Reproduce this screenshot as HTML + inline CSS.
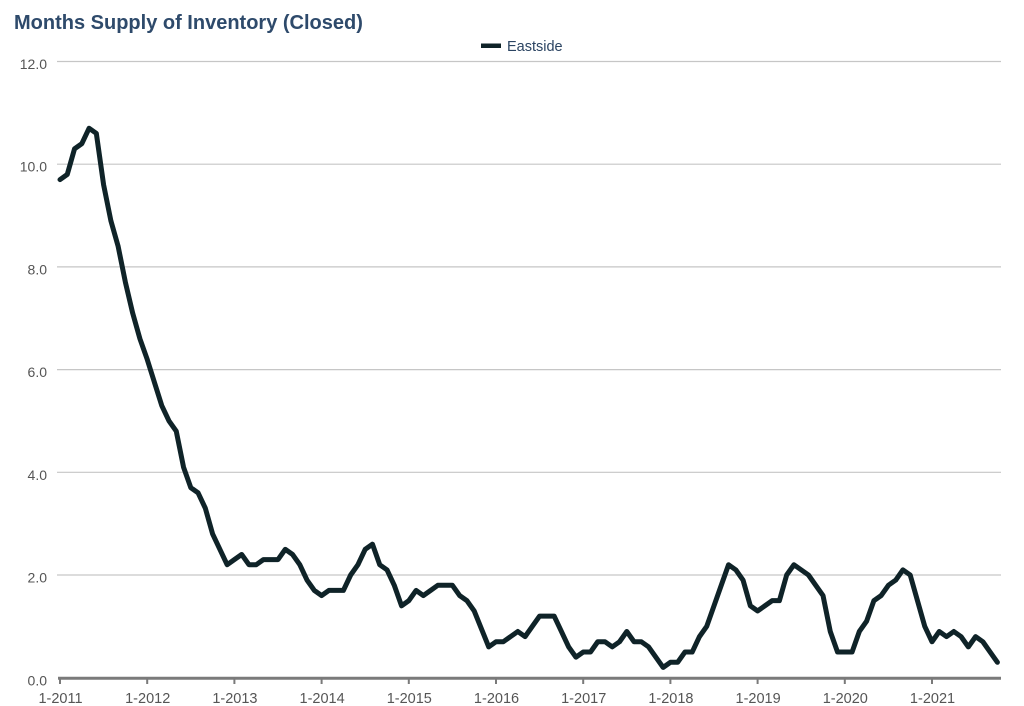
<!DOCTYPE html>
<html>
<head>
<meta charset="utf-8">
<style>
  html, body { margin: 0; padding: 0; background: #ffffff; }
  svg { display: block; }
  text { font-family: "Liberation Sans", Arial, sans-serif; }
</style>
</head>
<body>
<svg width="1024" height="706" viewBox="0 0 1024 706" xmlns="http://www.w3.org/2000/svg">
  <rect x="0" y="0" width="1024" height="706" fill="#ffffff"/>

  <!-- Title -->
  <text x="14" y="29" font-size="20" font-weight="bold" fill="#2e4a6b">Months Supply of Inventory (Closed)</text>

  <!-- Legend -->
  <rect x="481" y="43.5" width="20" height="4.5" fill="#0f2328"/>
  <text x="507" y="51" font-size="14.5" fill="#2b4462">Eastside</text>

  <!-- Gridlines -->
  <g stroke="#c6c6c6" stroke-width="1.2">
    <line x1="57" y1="61.5" x2="1001" y2="61.5"/>
    <line x1="57" y1="164.2" x2="1001" y2="164.2"/>
    <line x1="57" y1="266.9" x2="1001" y2="266.9"/>
    <line x1="57" y1="369.6" x2="1001" y2="369.6"/>
    <line x1="57" y1="472.3" x2="1001" y2="472.3"/>
    <line x1="57" y1="575" x2="1001" y2="575"/>
  </g>

  <!-- Y labels -->
  <g font-size="14" fill="#555555" text-anchor="end">
    <text x="47" y="69">12.0</text>
    <text x="47" y="171.7">10.0</text>
    <text x="47" y="274.4">8.0</text>
    <text x="47" y="377.1">6.0</text>
    <text x="47" y="479.8">4.0</text>
    <text x="47" y="582.5">2.0</text>
    <text x="47" y="685.5">0.0</text>
  </g>

  <!-- X axis -->
  <line x1="58" y1="678.3" x2="1001" y2="678.3" stroke="#7a7a7a" stroke-width="3"/>
  <g stroke="#7a7a7a" stroke-width="2">
    <line x1="60" y1="678" x2="60" y2="684"/>
    <line x1="147.2" y1="678" x2="147.2" y2="684"/>
    <line x1="234.4" y1="678" x2="234.4" y2="684"/>
    <line x1="321.6" y1="678" x2="321.6" y2="684"/>
    <line x1="408.8" y1="678" x2="408.8" y2="684"/>
    <line x1="496" y1="678" x2="496" y2="684"/>
    <line x1="583.2" y1="678" x2="583.2" y2="684"/>
    <line x1="670.4" y1="678" x2="670.4" y2="684"/>
    <line x1="757.6" y1="678" x2="757.6" y2="684"/>
    <line x1="844.8" y1="678" x2="844.8" y2="684"/>
    <line x1="932" y1="678" x2="932" y2="684"/>
  </g>
  <g font-size="14.5" fill="#555555" text-anchor="middle">
    <text x="60.5" y="703">1-2011</text>
    <text x="147.7" y="703">1-2012</text>
    <text x="234.9" y="703">1-2013</text>
    <text x="322.1" y="703">1-2014</text>
    <text x="409.3" y="703">1-2015</text>
    <text x="496.5" y="703">1-2016</text>
    <text x="583.7" y="703">1-2017</text>
    <text x="670.9" y="703">1-2018</text>
    <text x="758.1" y="703">1-2019</text>
    <text x="845.3" y="703">1-2020</text>
    <text x="932.5" y="703">1-2021</text>
  </g>

  <!-- Series -->
  <g transform="translate(60,677.7) scale(7.2667,-51.35)">
    <polyline fill="none" stroke="#0f2328" stroke-width="5" stroke-linejoin="round" stroke-linecap="round" vector-effect="non-scaling-stroke"
      points="0,9.7 1,9.8 2,10.3 3,10.4 4,10.7 5,10.6 6,9.6 7,8.9 8,8.4 9,7.7 10,7.1 11,6.6
              12,6.2 13,5.75 14,5.3 15,5.0 16,4.8 17,4.1 18,3.7 19,3.6 20,3.3 21,2.8 22,2.5 23,2.2
              24,2.3 25,2.4 26,2.2 27,2.2 28,2.3 29,2.3 30,2.3 31,2.5 32,2.4 33,2.2 34,1.9 35,1.7
              36,1.6 37,1.7 38,1.7 39,1.7 40,2.0 41,2.2 42,2.5 43,2.6 44,2.2 45,2.1 46,1.8 47,1.4
              48,1.5 49,1.7 50,1.6 51,1.7 52,1.8 53,1.8 54,1.8 55,1.6 56,1.5 57,1.3 58,0.95 59,0.6
              60,0.7 61,0.7 62,0.8 63,0.9 64,0.8 65,1.0 66,1.2 67,1.2 68,1.2 69,0.9 70,0.6 71,0.4
              72,0.5 73,0.5 74,0.7 75,0.7 76,0.6 77,0.7 78,0.9 79,0.7 80,0.7 81,0.6 82,0.4 83,0.2
              84,0.3 85,0.3 86,0.5 87,0.5 88,0.8 89,1.0 90,1.4 91,1.8 92,2.2 93,2.1 94,1.9 95,1.4
              96,1.3 97,1.4 98,1.5 99,1.5 100,2.0 101,2.2 102,2.1 103,2.0 104,1.8 105,1.6 106,0.9 107,0.5
              108,0.5 109,0.5 110,0.9 111,1.1 112,1.5 113,1.6 114,1.8 115,1.9 116,2.1 117,2.0 118,1.5 119,1.0
              120,0.7 121,0.9 122,0.8 123,0.9 124,0.8 125,0.6 126,0.8 127,0.7 128,0.5 129,0.3"/>
  </g>
</svg>
</body>
</html>
